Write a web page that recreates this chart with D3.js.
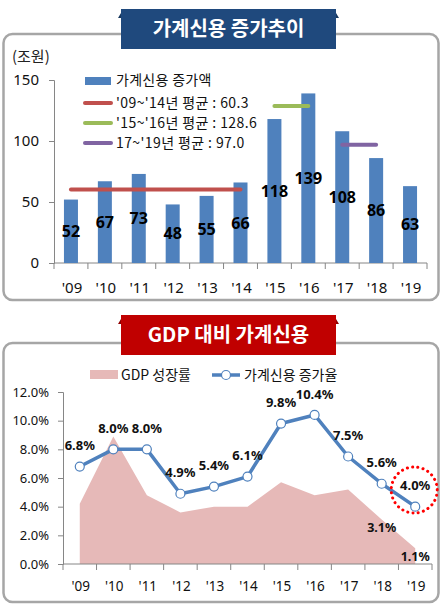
<!DOCTYPE html>
<html><head><meta charset="utf-8">
<script src="https://cdn.jsdelivr.net/npm/d3@7"></script>
<style>
body{margin:0;background:#fff;}
svg{display:block;font-family:"Noto Sans CJK KR","Noto Sans",sans-serif;}
</style></head>
<body><svg id="c" width="442" height="605"></svg>
<script>
const years = ["'09","'10","'11","'12","'13","'14","'15","'16","'17","'18","'19"];
const creditIncrease = [52,67,73,48,55,66,118,139,108,86,63];
const avgLabels = ["'09~'14년 평균 : 60.3","'15~'16년 평균 : 128.6","17~'19년 평균 : 97.0"];
const avgValues = [60.3,128.6,97.0];
const avgRanges = [["'09","'14"],["'15","'16"],["'17","'18"]];
const topTicks = [0,50,100,150];
const gdpGrowth = [4.2,8.9,4.8,3.6,4.0,4.0,5.7,4.8,5.2,3.1,1.1];
const creditGrowth = [6.8,8.0,8.0,4.9,5.4,6.1,9.8,10.4,7.5,5.6,4.0];
const bottomTicks = [0,2,4,6,8,10,12];

const svg = d3.select("#c");
const avgColors = ["#C0504D","#9BBB59","#8064A2"];
const blue = "#4F81BD";
const axisColor = "#868686";

function panel(y0,y1){
  svg.append("rect").attr("x",3.5).attr("y",y0).attr("width",435).attr("height",y1-y0)
    .attr("rx",9).attr("fill","#fff").attr("stroke","#A6A6A6").attr("stroke-width",2.5);
}
function titleBox(y0,title,color,dark){
  svg.append("path").attr("d",`M118,${y0+9} L121,${y0+4} L121,${y0+9} Z`).attr("fill",dark);
  svg.append("path").attr("d",`M339,${y0+9} L336,${y0+4} L336,${y0+9} Z`).attr("fill",dark);
  svg.append("rect").attr("x",121).attr("y",y0).attr("width",215).attr("height",40).attr("fill",color);
  svg.append("text").attr("x",228.5).attr("y",y0+20).attr("dy","0.36em").attr("text-anchor","middle")
    .attr("fill","#fff").attr("font-weight","bold").attr("font-size",20).text(title);
}
panel(34,300);
titleBox(9,"가계신용 증가추이","#1F497D","#17375E");
panel(343,602);
titleBox(315,"GDP 대비 가계신용","#C00000","#900000");

// ---------- Top chart ----------
const x1 = d3.scaleBand().domain(years).range([54,427]).padding(0);
const y1 = d3.scaleLinear().domain([0,150]).range([263,80]);
const g1 = svg.append("g");
g1.append("text").attr("x",12).attr("y",57).attr("dy","0.36em").attr("font-size",15).attr("fill","#222").text("(조원)");

const ya = g1.append("g").attr("transform","translate(54,0)")
  .call(d3.axisLeft(y1).tickValues(topTicks).tickSize(5).tickPadding(10));
ya.select(".domain").attr("stroke",axisColor);
ya.selectAll(".tick line").attr("stroke",axisColor);
ya.selectAll("text").attr("font-size",15).attr("fill","#111").attr("font-family","Noto Sans, sans-serif");

g1.append("line").attr("x1",54).attr("x2",427).attr("y1",263).attr("y2",263).attr("stroke",axisColor);
const bounds1 = years.map(d=>x1(d)).concat([x1.range()[1]]);
g1.selectAll(".bt").data(bounds1).join("line").attr("x1",d=>d).attr("x2",d=>d).attr("y1",263).attr("y2",269).attr("stroke",axisColor);
g1.selectAll(".xl").data(years).join("text").attr("x",d=>x1(d)+x1.bandwidth()/2+1).attr("y",288).attr("dy","0.36em")
  .attr("text-anchor","middle").attr("font-size",15).attr("fill","#111").attr("font-family","Noto Sans, sans-serif").text(d=>d);

const bw = 14;
g1.selectAll(".bar").data(years).join("rect")
  .attr("x",(d)=>x1(d)+x1.bandwidth()/2-bw/2).attr("width",bw)
  .attr("y",(d,i)=>y1(creditIncrease[i])).attr("height",(d,i)=>y1(0)-y1(creditIncrease[i]))
  .attr("fill",blue);

avgValues.forEach((v,i)=>{
  const [a,b]=avgRanges[i];
  g1.append("line").attr("x1",x1(a)+x1.bandwidth()/2).attr("x2",x1(b)+x1.bandwidth()/2)
    .attr("y1",y1(v)).attr("y2",y1(v)).attr("stroke",avgColors[i]).attr("stroke-width",4).attr("stroke-linecap","round");
});

g1.selectAll(".bl").data(years).join("text")
  .attr("x",d=>x1(d)+x1.bandwidth()/2).attr("y",(d,i)=>(y1(creditIncrease[i])+y1(0))/2).attr("dy","0.36em")
  .attr("text-anchor","middle").attr("font-size",16).attr("font-weight","bold").attr("fill","#000")
  .attr("font-family","Noto Sans, sans-serif").text((d,i)=>creditIncrease[i]);

g1.append("rect").attr("x",85).attr("y",77).attr("width",26).attr("height",8).attr("fill",blue);
g1.append("text").attr("x",116).attr("y",80).attr("dy","0.36em").attr("font-size",14).attr("letter-spacing",0.3).attr("fill","#111").text("가계신용 증가액");
const legY = [103,123,143];
avgLabels.forEach((t,i)=>{
  g1.append("line").attr("x1",85).attr("x2",111).attr("y1",legY[i]).attr("y2",legY[i]).attr("stroke",avgColors[i]).attr("stroke-width",4).attr("stroke-linecap","round");
  g1.append("text").attr("x",116).attr("y",legY[i]).attr("dy","0.36em").attr("font-size",14).attr("letter-spacing",0.4).attr("fill","#111").text(t);
});

// ---------- Bottom chart ----------
const x2 = d3.scaleBand().domain(years).range([63,432]).padding(0);
const y2 = d3.scaleLinear().domain([0,12]).range([564,392]);
const g2 = svg.append("g");
const cx = d=>x2(d)+x2.bandwidth()/2;

const yb = g2.append("g").attr("transform","translate(63,0)")
  .call(d3.axisLeft(y2).tickValues(bottomTicks).tickSize(5).tickPadding(9).tickFormat(d=>d.toFixed(1)+"%"));
yb.select(".domain").attr("stroke",axisColor);
yb.selectAll(".tick line").attr("stroke",axisColor);
yb.selectAll("text").attr("font-size",13).attr("fill","#111").attr("font-family","Noto Sans, sans-serif");

const area = d3.area().x((d,i)=>cx(years[i])).y0(y2(0)).y1(d=>y2(d));
g2.append("path").datum(gdpGrowth).attr("d",area).attr("fill","#E6B9B8");

g2.append("line").attr("x1",63).attr("x2",432).attr("y1",564).attr("y2",564).attr("stroke",axisColor);
const bounds2 = years.map(d=>x2(d)).concat([x2.range()[1]]);
g2.selectAll(".bt").data(bounds2).join("line").attr("x1",d=>d).attr("x2",d=>d).attr("y1",564).attr("y2",570).attr("stroke",axisColor);
g2.selectAll(".xl").data(years).join("text").attr("x",d=>cx(d)+1).attr("y",586).attr("dy","0.36em")
  .attr("text-anchor","middle").attr("font-size",13.5).attr("fill","#111").attr("font-family","Noto Sans, sans-serif").text(d=>d);

const line = d3.line().x((d,i)=>cx(years[i])).y(d=>y2(d));
g2.append("path").datum(creditGrowth).attr("d",line).attr("fill","none").attr("stroke",blue).attr("stroke-width",3.5).attr("stroke-linejoin","round");
g2.selectAll(".pt").data(creditGrowth).join("circle").attr("cx",(d,i)=>cx(years[i])).attr("cy",d=>y2(d)).attr("r",4.5)
  .attr("fill","#fff").attr("stroke",blue).attr("stroke-width",1.2);

g2.selectAll(".ll").data(creditGrowth).join("text").attr("x",(d,i)=>cx(years[i])).attr("y",d=>y2(d)-21).attr("dy","0.36em")
  .attr("text-anchor","middle").attr("font-size",13).attr("font-weight","bold").attr("fill","#111")
  .attr("font-family","Noto Sans, sans-serif").text(d=>d.toFixed(1)+"%");
[9,10].forEach(i=>{
  g2.append("text").attr("x",cx(years[i])).attr("y",y2(gdpGrowth[i])+8).attr("dy","0.36em")
    .attr("text-anchor","middle").attr("font-size",12.5).attr("font-weight","bold").attr("fill","#111")
    .attr("font-family","Noto Sans, sans-serif").text(gdpGrowth[i].toFixed(1)+"%");
});

g2.append("circle").attr("cx",cx("'19")-1).attr("cy",490).attr("r",23).attr("fill","none")
  .attr("stroke","#FF0000").attr("stroke-width",3).attr("stroke-dasharray","0.1 5.2").attr("stroke-linecap","round");

g2.append("rect").attr("x",90).attr("y",370).attr("width",28).attr("height",9).attr("fill","#E6B9B8");
g2.append("text").attr("x",121).attr("y",375).attr("dy","0.36em").attr("font-size",14).attr("fill","#111").text("GDP 성장률");
g2.append("line").attr("x1",212).attr("x2",240).attr("y1",375).attr("y2",375).attr("stroke",blue).attr("stroke-width",3.5);
g2.append("circle").attr("cx",226).attr("cy",375).attr("r",4.5).attr("fill","#fff").attr("stroke",blue).attr("stroke-width",1.2);
g2.append("text").attr("x",244).attr("y",375).attr("dy","0.36em").attr("font-size",14).attr("fill","#111").text("가계신용 증가율");
</script></body></html>
